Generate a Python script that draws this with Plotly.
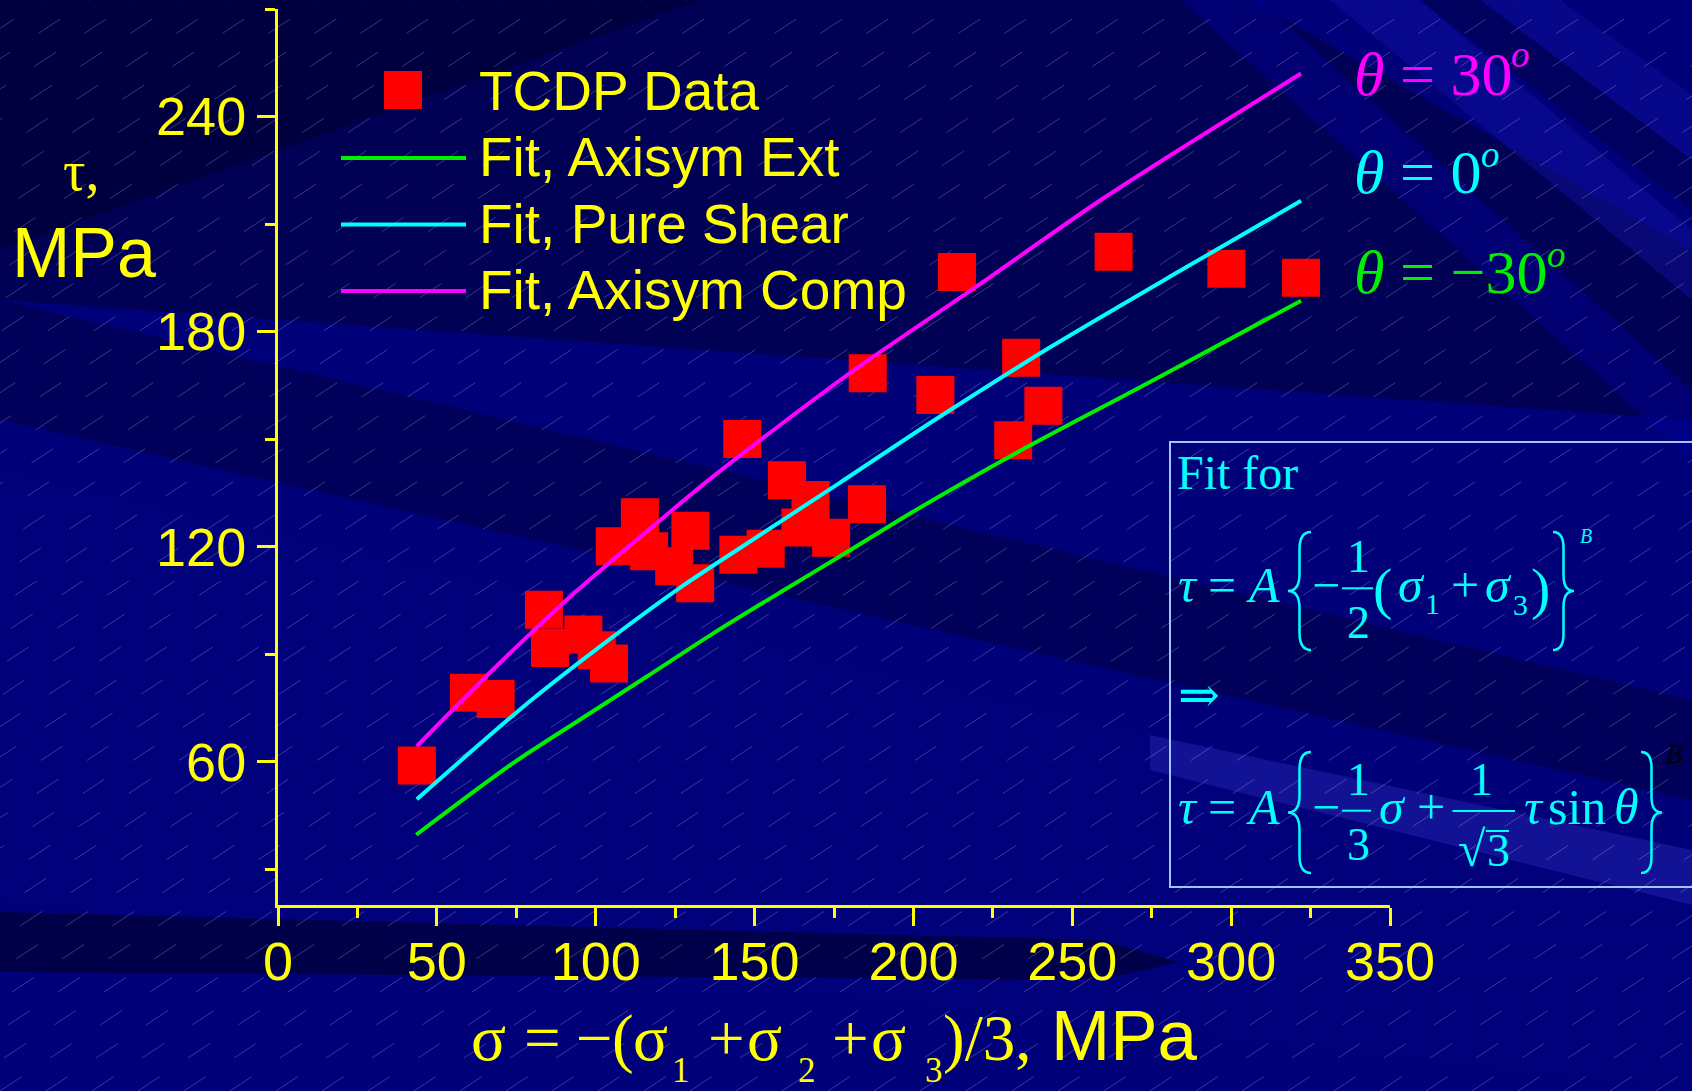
import plotly.graph_objects as go

# ---------------- data ----------------
# TCDP data: mean stress sigma (MPa) vs shear stress tau (MPa)
sigma_data = [43.7, 60.1, 68.5, 83.7, 85.6, 96.1, 100.3, 104.2, 106.0, 113.9,
              116.8, 124.7, 129.8, 131.3, 144.9, 146.1, 153.5, 160.2, 164.4, 167.6,
              174.1, 185.4, 185.6, 206.9, 213.7, 231.4, 233.9, 240.9, 263.0, 298.5,
              322.0]
tau_data = [58.9, 79.2, 77.5, 102.4, 91.7, 95.5, 91.1, 87.4, 120.1, 128.2,
            118.7, 114.5, 124.4, 109.8, 117.7, 150.0, 119.4, 138.5, 125.3, 133.0,
            122.5, 131.8, 168.4, 162.3, 196.6, 149.7, 172.7, 159.3, 202.3, 197.5,
            195.0]

# fitted curves, theta = -30 deg (axisymmetric extension)
ext_sigma = [43.5, 74.0, 95.0, 116.0, 137.0, 158.0, 179.0, 200.0, 232.5, 274.6, 322.0]
ext_tau = [39.6, 59.6, 71.7, 83.7, 95.8, 107.2, 118.4, 129.8, 146.2, 166.0, 188.6]

# theta = 0 deg (pure shear)
shear_sigma = [43.7, 79.2, 105.5, 126.5, 147.5, 176.8, 206.8, 243.0, 285.0, 322.0]
shear_tau = [49.5, 76.8, 94.9, 108.5, 120.8, 137.8, 155.4, 175.6, 197.5, 216.5]

# theta = +30 deg (axisymmetric compression)
comp_sigma = [43.7, 66.1, 89.2, 105.5, 123.3, 137.0, 180.0, 219.9, 259.8, 322.0]
comp_tau = [64.3, 84.3, 103.8, 116.4, 129.6, 139.6, 168.4, 192.6, 217.2, 252.0]

x_ticks = [0, 50, 100, 150, 200, 250, 300, 350]
x_minor = [25, 75, 125, 175, 225, 275, 325]
y_ticks = [60, 120, 180, 240]
y_minor = [30, 90, 150, 210, 270]

legend_labels = ["TCDP Data", "Fit, Axisym Ext", "Fit, Pure Shear", "Fit, Axisym Comp"]
theta_labels = ["30", "0", "−30"]

# ---------------- page geometry ----------------
W, H = 1692, 1091
ML, MR, MT, MB = 278, 302, 9, 186
PW = W - ML - MR
PH = H - MT - MB

YELLOW = "#ffff00"
RED = "#ff0000"
GREEN = "#00f000"
CYAN = "#00ffff"
MAGENTA = "#ff00ff"
SANS = "Liberation Sans, Arial, sans-serif"
SERIF = "Liberation Serif, Times New Roman, serif"
SERIF_SYM = "Liberation Serif, DejaVu Serif, serif"
ASC_SERIF = 0.891
ASC_SANS = 0.905


def px(x):
    return (x - ML) / PW


def py(y):
    return 1 - (y - MT) / PH


def pt(x, y):
    return f"{px(x):.5f},{py(y):.5f}"


def poly(points, color):
    d = "M " + " L ".join(pt(x, y) for x, y in points) + " Z"
    return dict(type="path", path=d, xref="paper", yref="paper",
                fillcolor=color, line=dict(width=0), layer="below")


def text(s, x, y, size, color, family, xanchor="left", yanchor="top"):
    return dict(text=s, x=px(x), y=py(y), xref="paper", yref="paper",
                xanchor=xanchor, yanchor=yanchor, showarrow=False,
                borderpad=0, borderwidth=0,
                font=dict(size=size, color=color, family=family))


def glyph(s, cx, base, size, color=CYAN, family=SERIF):
    """Text centred on cx, sitting on the baseline `base`."""
    return text(s, cx, base - ASC_SERIF * size, size, color, family, xanchor="center")


def brace(xl, xr, yt, yb, color, side="left"):
    ym = (yt + yb) / 2
    xm = (xl + xr) / 2
    k = (xr - xl) * 0.75
    if side == "left":
        tip, end = xl, xr
    else:
        tip, end = xr, xl
    d = (f"M {pt(end, yt)} Q {pt(xm, yt)} {pt(xm, yt + k)} "
         f"L {pt(xm, ym - k)} Q {pt(xm, ym)} {pt(tip, ym)} "
         f"Q {pt(xm, ym)} {pt(xm, ym + k)} L {pt(xm, yb - k)} "
         f"Q {pt(xm, yb)} {pt(end, yb)}")
    return dict(type="path", path=d, xref="paper", yref="paper",
                line=dict(color=color, width=2.5), layer="above")


def hline(x0, x1, y, color, width):
    return dict(type="line", xref="paper", yref="paper",
                x0=px(x0), x1=px(x1), y0=py(y), y1=py(y),
                line=dict(color=color, width=width), layer="above")


# ---------------- figure ----------------
fig = go.Figure()

fig.add_trace(go.Scatter(
    x=sigma_data, y=tau_data, mode="markers", name=legend_labels[0],
    marker=dict(symbol="square", size=38, color=RED, line=dict(width=0)),
    cliponaxis=False, showlegend=False))

for xs, ys, col, name in [(ext_sigma, ext_tau, GREEN, legend_labels[1]),
                          (shear_sigma, shear_tau, CYAN, legend_labels[2]),
                          (comp_sigma, comp_tau, MAGENTA, legend_labels[3])]:
    fig.add_trace(go.Scatter(
        x=xs, y=ys, mode="lines", name=name,
        line=dict(color=col, width=4, shape="spline", smoothing=0.8),
        cliponaxis=False, showlegend=False))

# ---------------- background ----------------
shapes = [
    # dark upper-left field
    poly([(0, 0), (1250, 0), (1692, 250), (1692, 420), (0, 300)], "rgba(0,0,40,0.45)"),
    poly([(0, 0), (700, 0), (0, 250)], "rgba(0,0,30,0.35)"),
    # darker diagonal ray across the plot
    poly([(0, 300), (1692, 700), (1692, 800), (0, 420)], "rgba(0,0,45,0.38)"),
    # faint lighter ray lower left to right
    poly([(0, 470), (1692, 860), (1692, 1091), (0, 900)], "rgba(10,10,150,0.12)"),
    # dark band under the x axis
    poly([(0, 912), (1100, 940), (1180, 962), (1100, 980), (0, 972)], "rgba(0,0,35,0.55)"),
    # pale ray near lower right
    poly([(1150, 735), (1692, 850), (1692, 905), (1150, 770)], "rgba(60,60,210,0.30)"),
    # rays in the upper right
    poly([(1180, 0), (1260, 0), (1692, 390), (1692, 460)], "rgba(0,0,150,0.45)"),
    poly([(1330, 0), (1420, 0), (1692, 230), (1692, 300)], "rgba(20,20,170,0.40)"),
    poly([(1480, 0), (1560, 0), (1692, 95), (1692, 160)], "rgba(20,20,170,0.35)"),
    poly([(1420, 0), (1480, 0), (1692, 160), (1692, 210)], "rgba(0,0,50,0.35)"),
]

# faint dashed hatching over the whole page
slope = 0.66
segs = []
for i in range(-40, 40):
    x0 = i * 46.0
    x1 = x0 + H / slope
    segs.append(f"M {pt(x0, H)} L {pt(x1, 0)}")
shapes.append(dict(type="path", path=" ".join(segs), xref="paper", yref="paper",
                   line=dict(color="rgba(190,190,255,0.30)", width=1, dash="26px,34px"),
                   layer="below"))

# ---------------- legend ----------------
legend_rows = [109.5, 176.0, 242.5, 309.0]
shapes.append(dict(type="rect", xref="paper", yref="paper",
                   x0=px(384), x1=px(422), y0=py(109), y1=py(71),
                   fillcolor=RED, line=dict(width=0), layer="above"))
for row, col in zip(legend_rows[1:], [GREEN, CYAN, MAGENTA]):
    shapes.append(hline(341, 466, row - 18, col, 4))

annotations = []
for row, lab in zip(legend_rows, legend_labels):
    annotations.append(text(lab, 479, row - ASC_SANS * 55, 55, YELLOW, SANS))

# ---------------- axis titles ----------------
annotations.append(text("τ,", 81, 189.5 - ASC_SERIF * 56, 56, YELLOW, SERIF, xanchor="center"))
annotations.append(text("MPa", 12, 277 - ASC_SANS * 70, 70, YELLOW, SANS))

# sigma = -(sigma1 + sigma2 + sigma3)/3, MPa  (set piece by piece, deep subscripts)
XB, XSB, XF, XSF = 1060, 1082, 65, 35
annotations += [
    glyph("σ", 488.4, XB, XF, YELLOW),
    glyph("=", 542.0, XB, XF, YELLOW),
    glyph("−", 594.2, XB, XF, YELLOW),
    glyph("(", 622.7, XB, XF, YELLOW),
    glyph("σ", 650.2, XB, XF, YELLOW),
    glyph("1", 681.3, XSB, XSF, YELLOW),
    glyph("+", 726.0, XB, XF, YELLOW),
    glyph("σ", 764.6, XB, XF, YELLOW),
    glyph("2", 806.8, XSB, XSF, YELLOW),
    glyph("+", 850.5, XB, XF, YELLOW),
    glyph("σ", 888.9, XB, XF, YELLOW),
    glyph("3", 933.7, XSB, XSF, YELLOW),
    text(")/3,", 943, XB - ASC_SERIF * XF, XF, YELLOW, SERIF),
    text("MPa", 1198, XB - ASC_SANS * 71, 71, YELLOW, SANS, xanchor="right"),
]

# ---------------- theta labels ----------------
# (baseline, degree-mark centre x, degree-mark baseline, colour)
theta_rows = [(95.0, 1520.0, 66.7, MAGENTA),
              (193.3, 1490.5, 166.7, CYAN),
              (293.3, 1556.0, 266.7, GREEN)]
for lab, (base, ox, obase, col) in zip(theta_labels, theta_rows):
    annotations.append(text(f"<i>θ</i> = {lab}", 1354, base - ASC_SERIF * 62, 62, col, SERIF))
    annotations.append(glyph("<i>o</i>", ox, obase, 37, col))

# ---------------- fit equation box ----------------
BOXC = "#a0c4ff"
shapes.append(dict(type="rect", xref="paper", yref="paper",
                   x0=px(1170), x1=px(1730), y0=py(887), y1=py(442),
                   line=dict(color=BOXC, width=2), fillcolor="rgba(0,0,0,0)", layer="above"))

EF, FF = 50, 46
annotations.append(text("Fit for", 1177, 488.3 - ASC_SERIF * 48, 48, CYAN, SERIF))

# tau = A { -1/2 (sigma1 + sigma3) }^B
b1 = 601.7
annotations += [
    glyph("<i>τ</i>", 1188, b1, EF),
    glyph("=", 1221.7, b1, EF),
    glyph("<i>A</i>", 1263.2, b1, EF),
    glyph("−", 1325.5, b1, EF),
    glyph("1", 1358, 571.7, FF),
    glyph("2", 1358, 638.3, FF),
    glyph("(", 1382.5, 608, 58),
    glyph("<i>σ</i>", 1411, b1, EF),
    glyph("1", 1432, 613.3, 30),
    glyph("+", 1465.3, b1, EF),
    glyph("<i>σ</i>", 1498, b1, EF),
    glyph("3", 1520, 615, 30),
    glyph(")", 1540.6, 608, 58),
    glyph("<i>B</i>", 1585.5, 543.3, 20),
]
shapes.append(hline(1342, 1373, 588.3, CYAN, 2))
shapes.append(brace(1288, 1311, 532, 650, CYAN, "left"))
shapes.append(brace(1553, 1574, 532, 650, CYAN, "right"))

annotations.append(text("⇒", 1199.3, 695, 50, CYAN, SERIF_SYM, xanchor="center", yanchor="middle"))

# tau = A { -1/3 sigma + 1/sqrt(3) tau sin(theta) }^B
b2 = 823.3
annotations += [
    glyph("<i>τ</i>", 1188, b2, EF),
    glyph("=", 1221.7, b2, EF),
    glyph("<i>A</i>", 1263.2, b2, EF),
    glyph("−", 1325.5, b2, EF),
    glyph("1", 1358, 795, FF),
    glyph("3", 1358, 860, FF),
    glyph("<i>σ</i>", 1392, b2, EF),
    glyph("+", 1431, b2, EF),
    glyph("1", 1481.7, 795, FF),
    glyph("√", 1472, 866, 50, CYAN, SERIF_SYM),
    glyph("3", 1498, 866, FF),
    glyph("<i>τ</i>", 1533.5, b2, EF),
    glyph("sin", 1577, b2, EF),
    glyph("<i>θ</i>", 1626, b2, EF),
    glyph("<i>B</i>", 1674.5, 763.3, 27, "#000000"),
]
shapes.append(hline(1342, 1371, 810.7, CYAN, 2))
shapes.append(hline(1452.5, 1515, 811, CYAN, 2))
shapes.append(hline(1486, 1509, 831, CYAN, 2))
shapes.append(brace(1288, 1311, 752, 873, CYAN, "left"))
shapes.append(brace(1641, 1662, 752, 873, CYAN, "right"))

# ---------------- axes & layout ----------------
axis_common = dict(
    showline=True, linecolor=YELLOW, linewidth=3,
    ticks="outside", ticklen=18, tickwidth=3, tickcolor=YELLOW,
    tickfont=dict(family=SANS, size=54, color=YELLOW),
    showgrid=False, zeroline=False, fixedrange=True,
)

fig.update_layout(
    width=W, height=H,
    margin=dict(l=ML, r=MR, t=MT, b=MB, pad=0),
    paper_bgcolor="#000078",
    plot_bgcolor="rgba(0,0,0,0)",
    showlegend=False,
    xaxis=dict(range=[0, 350], tickvals=x_ticks, ticktext=[str(v) for v in x_ticks],
               minor=dict(tickvals=x_minor, ticks="outside", ticklen=10, tickwidth=3,
                          tickcolor=YELLOW),
               ticklabelstandoff=-11, **axis_common),
    yaxis=dict(range=[20, 270], tickvals=y_ticks, ticktext=[str(v) for v in y_ticks],
               minor=dict(tickvals=y_minor, ticks="outside", ticklen=10, tickwidth=3,
                          tickcolor=YELLOW),
               ticklabelstandoff=0, **axis_common),
    shapes=shapes,
    annotations=annotations,
)

fig.write_html("out.html", config={"displayModeBar": False})
